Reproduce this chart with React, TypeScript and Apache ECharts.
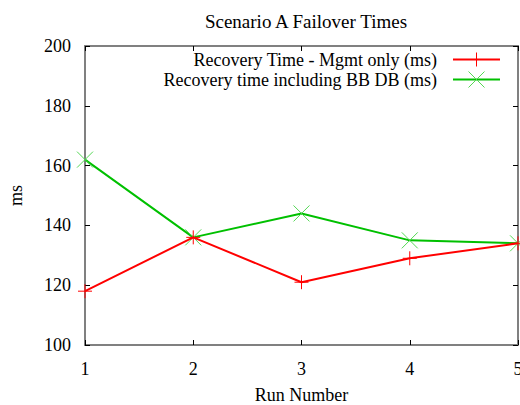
import React, { useEffect, useRef } from "react";
import * as echarts from "echarts";

const runs = [1, 2, 3, 4, 5];
const mgmtOnly = [118, 136, 121, 129, 134];
const withBBDB = [162, 136, 144, 135, 134];
const yTicks = [100, 120, 140, 160, 180, 200];
const seriesNames = ["Recovery Time - Mgmt only (ms)", "Recovery time including BB DB (ms)"];

if (typeof document !== "undefined") {
  document.body.style.margin = "0";
  document.body.style.overflow = "hidden";
  document.documentElement.style.overflow = "hidden";
}

const FONT = "Liberation Serif, Times New Roman, Times, serif";
const FS = 18;
const RED = "#ff0000";
const GREEN = "#00c000";
const MARK_GREEN = "#55d855";
const AXIS = "#808080";

export default function App() {
  const ref = useRef<HTMLDivElement>(null);
  useEffect(() => {
    if (!ref.current) return;
    const chart = echarts.init(ref.current, undefined, { renderer: "svg" });
    const tickCommon = { show: true, inside: true, length: 5, lineStyle: { color: "#000", width: 1 } };
    const txt = { fontFamily: FONT, fontSize: FS, color: "#000" };
    const option: any = {
      animation: false,
      backgroundColor: "#ffffff",
      textStyle: { fontFamily: FONT },
      title: {
        text: "Scenario A Failover Times",
        left: 301,
        top: 7,
        textAlign: "center",
        textStyle: { ...txt, fontSize: 19, fontWeight: "normal" },
      },
      grid: { left: 85, right: 2, top: 46, bottom: 60, containLabel: false, outerBoundsMode: "none" },
      xAxis: [
        {
          type: "value",
          min: runs[0],
          max: runs[runs.length - 1],
          interval: 1,
          name: "Run Number",
          nameLocation: "middle",
          nameGap: 41,
          nameTextStyle: txt,
          axisLine: { show: true, lineStyle: { color: AXIS, width: 2 } },
          axisTick: tickCommon,
          splitLine: { show: false },
          axisLabel: { ...txt, margin: 15 },
        },
        {
          type: "value",
          position: "top",
          min: runs[0],
          max: runs[runs.length - 1],
          interval: 1,
          axisLine: { show: true, lineStyle: { color: AXIS, width: 2 } },
          axisTick: tickCommon,
          splitLine: { show: false },
          axisLabel: { show: false },
        },
      ],
      yAxis: [
        {
          type: "value",
          min: yTicks[0],
          max: yTicks[yTicks.length - 1],
          interval: 20,
          name: "ms",
          nameLocation: "middle",
          nameRotate: 90,
          nameGap: 60,
          nameTextStyle: txt,
          axisLine: { show: true, lineStyle: { color: AXIS, width: 2 } },
          axisTick: tickCommon,
          splitLine: { show: false },
          axisLabel: { ...txt, margin: 14 },
        },
        {
          type: "value",
          position: "right",
          min: yTicks[0],
          max: yTicks[yTicks.length - 1],
          interval: 20,
          axisLine: { show: true, lineStyle: { color: AXIS, width: 2 } },
          axisTick: tickCommon,
          splitLine: { show: false },
          axisLabel: { show: false },
        },
      ],
      series: [
        {
          name: seriesNames[0],
          type: "line",
          data: runs.map((r, i) => [r, mgmtOnly[i]]),
          symbol: "path://M0,-7L0,7M-7,0L7,0",
          symbolSize: 14,
          lineStyle: { color: RED, width: 2 },
          itemStyle: { color: "none", borderColor: RED, borderWidth: 1 },
          z: 3,
        },
        {
          name: seriesNames[1],
          type: "line",
          data: runs.map((r, i) => [r, withBBDB[i]]),
          symbol: "path://M-1,-1L1,1M-1,1L1,-1",
          symbolSize: 16,
          lineStyle: { color: GREEN, width: 2 },
          itemStyle: { color: "none", borderColor: MARK_GREEN, borderWidth: 1 },
          z: 2,
        },
      ],
      graphic: [
        {
          type: "text",
          x: 437,
          y: 60,
          style: { text: seriesNames[0], fontFamily: FONT, fontSize: FS, fill: "#000", align: "right", verticalAlign: "middle" },
        },
        { type: "line", shape: { x1: 453, y1: 59.5, x2: 500, y2: 59.5 }, style: { stroke: RED, lineWidth: 2 } },
        { type: "line", shape: { x1: 476.5, y1: 52.5, x2: 476.5, y2: 66.5 }, style: { stroke: RED, lineWidth: 1 } },
        {
          type: "text",
          x: 437,
          y: 80,
          style: { text: seriesNames[1], fontFamily: FONT, fontSize: FS, fill: "#000", align: "right", verticalAlign: "middle" },
        },
        { type: "line", shape: { x1: 453, y1: 79.5, x2: 500, y2: 79.5 }, style: { stroke: GREEN, lineWidth: 2 } },
        { type: "line", shape: { x1: 468.5, y1: 71.5, x2: 484.5, y2: 87.5 }, style: { stroke: MARK_GREEN, lineWidth: 1 } },
        { type: "line", shape: { x1: 468.5, y1: 87.5, x2: 484.5, y2: 71.5 }, style: { stroke: MARK_GREEN, lineWidth: 1 } },
      ],
    };
    chart.setOption(option);
    return () => chart.dispose();
  }, []);
  return <div ref={ref} style={{ width: 520, height: 405 }} />;
}
